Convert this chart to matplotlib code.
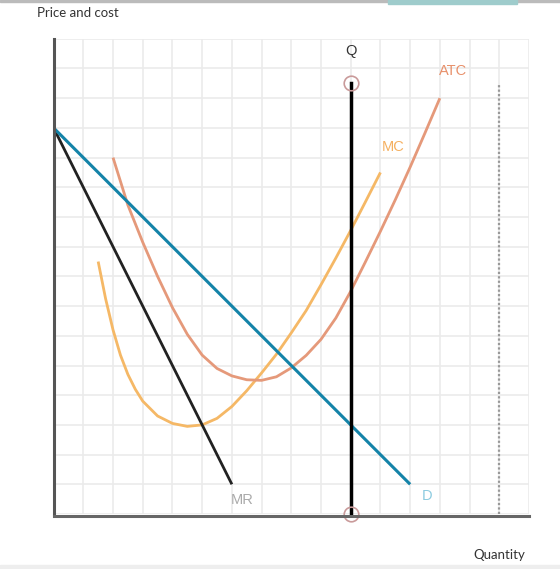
import matplotlib.pyplot as plt
import numpy as np
from matplotlib.patches import Rectangle

# values (grid units, 16 x 16 cells)
d_q = [0, 12]
d_p = [13, 1]

mr_q = [0, 6]
mr_p = [13, 1]

mc_q = [1.5, 1.75, 2.0, 2.25, 2.5, 2.75, 3.0, 3.5, 4.0, 4.5, 5.0, 5.5, 6.0, 6.5, 7.0, 7.5, 8.0, 8.5, 9.0, 9.5, 10.0, 10.5, 11.0]
mc_p = [8.5, 7.25, 6.2, 5.35, 4.7, 4.2, 3.8, 3.3, 3.05, 2.95, 3.0, 3.22, 3.62, 4.15, 4.75, 5.38, 6.1, 6.85, 7.72, 8.62, 9.55, 10.52, 11.5]

atc_q = [2.0, 2.5, 3.0, 3.5, 4.0, 4.5, 5.0, 5.5, 6.0, 6.5, 7.0, 7.5, 8.0, 8.5, 9.0, 9.5, 10.0, 10.5, 11.0, 11.5, 12.0, 12.5, 13.0]
atc_p = [12.0, 10.4, 9.15, 8.0, 6.95, 6.05, 5.35, 4.9, 4.65, 4.52, 4.5, 4.62, 4.92, 5.34, 5.88, 6.6, 7.5, 8.5, 9.52, 10.58, 11.68, 12.83, 14.0]

q_line = 10
q_top = 14.5
cap_q = 15
cap_top = 14.45

fig = plt.figure(figsize=(5.6, 5.69), dpi=100)
ax = fig.add_axes([53.6/560, (569-514)/569, 475.4/560, 475.2/569])
ax.set_xlim(0, 16)
ax.set_ylim(0, 16)

ax.set_xticks(np.arange(0, 17))
ax.set_yticks(np.arange(0, 17))
ax.grid(True, color='#ebebeb', lw=1.2)
ax.set_axisbelow(True)
ax.tick_params(length=0, labelbottom=False, labelleft=False)
for s in ['top', 'right']:
    ax.spines[s].set_visible(False)
ax.spines['left'].set_color('#555555')
ax.spines['left'].set_linewidth(2.2)
ax.spines['bottom'].set_color('#666666')
ax.spines['bottom'].set_linewidth(2.2)
ax.spines['bottom'].set_position(('data', -0.08))

# capacity dotted line
ax.plot([cap_q, cap_q], [0, cap_top], color='#999999', lw=1.6, ls=(0, (1, 1)), clip_on=False)

ax.plot(mc_q, mc_p, color='#f5b866', lw=2, solid_capstyle='butt', solid_joinstyle='round')
ax.plot(atc_q, atc_p, color='#e5997a', lw=2, solid_capstyle='butt', solid_joinstyle='round')
ax.plot(mr_q, mr_p, color='#222222', lw=2, solid_capstyle='butt')
ax.plot(d_q, d_p, color='#1483a8', lw=2.2, solid_capstyle='butt')

ax.plot([q_line, q_line], [0, q_top], color='black', lw=2.5, clip_on=False)
ax.plot([q_line, q_line], [q_top, 0], 'o', ms=10.5, mfc='none', mec='#c99a9a', mew=1.2, clip_on=False)

lab = dict(family='Liberation Sans', fontsize=10.5, ha='center', va='center')
ax.text(13.45, 14.92, 'ATC', color='#e8906a', **lab)
ax.text(11.43, 12.36, 'MC', color='#f5b060', **lab)
ax.text(6.34, 0.47, 'MR', color='#aaaaaa', **lab)
ax.text(12.57, 0.6, 'D', color='#8ccbe0', **lab)
ax.text(10, 15.6, 'Q', color='#333333', **lab)

fig.text(37/560, 1 - 13/569, 'Price and cost', family='Lato', fontsize=9.5, color='#333333', ha='left', va='center')
fig.text(525/560, 1 - 555/569, 'Quantity', family='Lato', fontsize=9.5, color='#333333', ha='right', va='center')

# page decorations
fig.patches.append(Rectangle((0, 1 - 1.5/569), 1, 1.5/569, transform=fig.transFigure, color='#bbbbbb'))
fig.patches.append(Rectangle((388/560, 1 - 3.5/569), 129/560, 3.5/569, transform=fig.transFigure, color='#9fcccc'))
fig.patches.append(Rectangle((0, 0), 1, 4/569, transform=fig.transFigure, color='#eeeeee'))

fig.savefig('out.png', dpi=100)
